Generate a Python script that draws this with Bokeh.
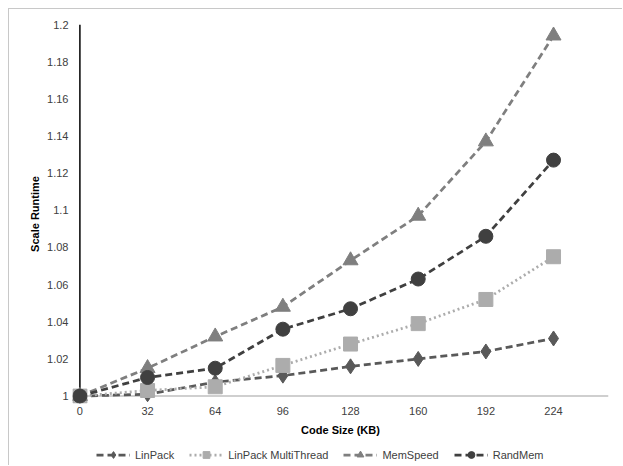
from bokeh.plotting import figure
from bokeh.layouts import column
from bokeh.models import FixedTicker, Range1d, Legend, LegendItem
from bokeh.embed import file_html
from bokeh.resources import INLINE

code_size = [0, 32, 64, 96, 128, 160, 192, 224]
linpack = [1.000, 1.001, 1.0075, 1.011, 1.016, 1.020, 1.024, 1.031]
linpack_mt = [1.000, 1.003, 1.005, 1.0165, 1.028, 1.039, 1.052, 1.075]
memspeed = [1.000, 1.015, 1.032, 1.048, 1.073, 1.097, 1.137, 1.194]
randmem = [1.000, 1.010, 1.015, 1.036, 1.047, 1.063, 1.086, 1.127]

y_ticks = [1.0, 1.02, 1.04, 1.06, 1.08, 1.1, 1.12, 1.14, 1.16, 1.18, 1.2]
y_tick_labels = ["1", "1.02", "1.04", "1.06", "1.08", "1.1", "1.12", "1.14", "1.16", "1.18", "1.2"]
x_ticks = [0, 32, 64, 96, 128, 160, 192, 224]
x_axis_end = 250

FONT = "Liberation Sans"
BORDER = "1px solid #c8c8c8"

p = figure(width=614, height=434, output_backend="svg", toolbar_location=None,
           x_range=Range1d(-3.5, x_axis_end), y_range=Range1d(0.996, 1.2),
           min_border_left=63, min_border_right=15, min_border_top=15, min_border_bottom=40,
           styles={"border-top": BORDER, "border-left": BORDER})
p.outline_line_color = None
p.grid.visible = False
p.background_fill_color = "white"
p.border_fill_color = "white"

p.yaxis.ticker = FixedTicker(ticks=y_ticks)
p.yaxis.major_label_overrides = {t: l for t, l in zip(y_ticks, y_tick_labels)}
p.xaxis.ticker = FixedTicker(ticks=x_ticks)
p.xaxis.major_label_overrides = {t: str(t) for t in x_ticks}
for ax in (p.xaxis, p.yaxis):
    ax.axis_line_color = None
    ax.major_tick_line_color = None
    ax.minor_tick_line_color = None
    ax.major_tick_out = 0
    ax.major_tick_in = 0
    ax.major_label_text_font = FONT
    ax.major_label_text_font_size = "11px"
    ax.major_label_text_color = "#404040"
    ax.axis_label_text_font = FONT
    ax.axis_label_text_font_size = "11px"
    ax.axis_label_text_font_style = "bold"
    ax.axis_label_text_color = "#000000"
p.yaxis.axis_label = "Scale Runtime"
p.xaxis.axis_label = "Code Size (KB)"
p.yaxis.major_label_standoff = 4
p.yaxis.axis_label_standoff = 3
p.xaxis.major_label_standoff = 3
p.xaxis.axis_label_standoff = 6

# axis lines through the data origin
p.segment(x0=[x_ticks[0]], y0=[y_ticks[0]], x1=[x_axis_end], y1=[y_ticks[0]],
          line_color="#bfbfbf", line_width=1.5)
p.segment(x0=[x_ticks[0]], y0=[y_ticks[0]], x1=[x_ticks[0]], y1=[y_ticks[-1]],
          line_color="#000000", line_width=1.5)

series = [
    ("LinPack", linpack, "#595959", "7 4", "diamond", 15),
    ("LinPack MultiThread", linpack_mt, "#acacac", "2 3", "square", 14),
    ("MemSpeed", memspeed, "#7f7f7f", "7 4", "triangle", 15),
    ("RandMem", randmem, "#404040", "7 4", "circle", 14),
]

# legend strip below the chart (its renderers lie outside its visible range)
q = figure(width=614, height=23, output_backend="svg", toolbar_location=None,
           x_axis_type=None, y_axis_type=None,
           x_range=Range1d(-1000, -999), y_range=Range1d(-1000, -999),
           min_border_left=0, min_border_right=0, min_border_top=0, min_border_bottom=0,
           styles={"border-left": BORDER})
q.outline_line_color = None
q.grid.visible = False
q.background_fill_color = "white"
q.border_fill_color = "white"

items = []
for name, vals, color, ld, marker, size in series:
    p.line(code_size, vals, line_color=color, line_width=2.75, line_dash=ld)
    p.scatter(code_size, vals, marker=marker, size=size, fill_color=color, line_color=color)
    lq = q.line(code_size, vals, line_color=color, line_width=2.75, line_dash=ld)
    sq = q.scatter(code_size, vals, marker=marker, size=size, fill_color=color, line_color=color)
    items.append(LegendItem(label=name, renderers=[lq, sq]))

legend = Legend(items=items, orientation="horizontal", location=(24, 2),
                label_text_font=FONT, label_text_font_size="11px", label_text_color="#404040",
                glyph_width=34, glyph_height=17, label_height=17, spacing=15, label_standoff=5,
                padding=0, margin=0, border_line_color=None, background_fill_alpha=0)
q.add_layout(legend, "center")

layout = column(p, q, spacing=0, styles={"margin-left": "8px", "margin-top": "8px"})

open("out.html", "w").write(file_html(layout, INLINE))
